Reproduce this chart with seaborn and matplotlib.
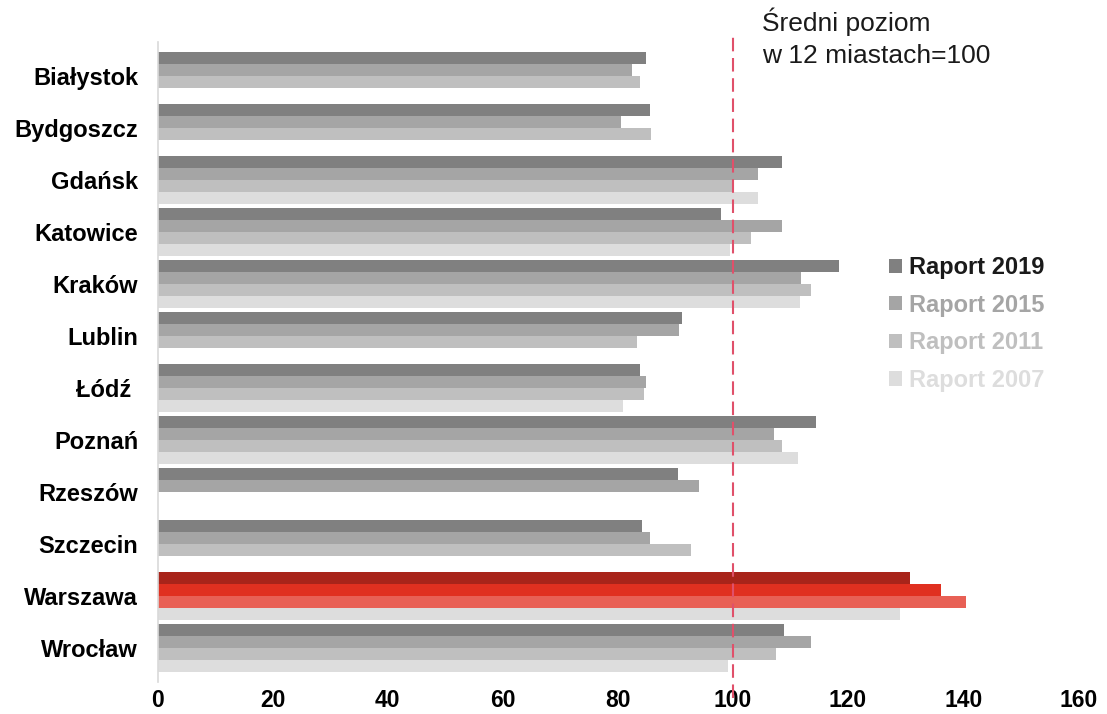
import numpy as np
import pandas as pd
import matplotlib
matplotlib.use("Agg")
import matplotlib.pyplot as plt
import matplotlib.transforms as mtransforms
from matplotlib.patches import Patch
import seaborn as sns

# ---- data ----
cities = ["Białystok", "Bydgoszcz", "Gdańsk", "Katowice", "Kraków", "Lublin",
          "Łódź ", "Poznań", "Rzeszów", "Szczecin", "Warszawa", "Wrocław"]
series = ["Raport 2019", "Raport 2015", "Raport 2011", "Raport 2007"]
nan = np.nan
r2019 = [84.9, 85.6, 108.6, 98.0, 118.4, 91.2, 83.8, 114.4, 90.5, 84.2, 130.8, 108.8]
r2015 = [82.5, 80.5, 104.3, 108.6, 111.9, 90.7, 84.8, 107.1, 94.1, 85.6, 136.2, 113.5]
r2011 = [83.9, 85.8, 99.9, 103.1, 113.5, 83.3, 84.6, 108.5, nan, 92.7, 140.5, 107.4]
r2007 = [nan, nan, 104.3, 99.4, 111.6, nan, 80.9, 111.3, nan, nan, 129.0, 99.2]
reference_level = 100
x_ticks = [0, 20, 40, 60, 80, 100, 120, 140, 160]
highlight_city = "Warszawa"

grey_colors = ["#808080", "#A5A5A5", "#BFBFBF", "#DDDDDD"]
highlight_colors = ["#A8241A", "#E03020", "#E86055", "#DDDDDD"]
legend_text_colors = ["#1A1A1A", "#A5A5A5", "#BFBFBF", "#DDDDDD"]

df = pd.DataFrame({"city": cities, series[0]: r2019, series[1]: r2015,
                   series[2]: r2011, series[3]: r2007})
long = df.melt(id_vars="city", var_name="report", value_name="value")

sns.set_style("white")
plt.rcParams["font.family"] = ["Liberation Sans", "DejaVu Sans"]

fig = plt.figure(figsize=(11.07, 7.14), dpi=100)
ax = fig.add_axes([157.6 / 1107, 1 - 682 / 714, (1078.2 - 157.6) / 1107, 640 / 714])

sns.barplot(data=long, y="city", x="value", hue="report", order=cities,
            hue_order=series, palette=grey_colors, orient="h", width=0.923,
            linewidth=0, saturation=1, errorbar=None, ax=ax, legend=False)

# recolor highlighted city
hi_idx = cities.index(highlight_city)
for i, cont in enumerate(ax.containers):
    for bar in cont:
        yc = bar.get_y() + bar.get_height() / 2
        if int(round(yc)) == hi_idx:
            bar.set_facecolor(highlight_colors[i])

ax.set_xlim(0, 160)
ax.set_ylim(11.65, -0.65)
ax.set_xticks(x_ticks)
ax.set_xlabel("")
ax.set_ylabel("")
for s in ["top", "right", "bottom"]:
    ax.spines[s].set_visible(False)
ax.spines["left"].set_color("#D9D9D9")
ax.spines["left"].set_linewidth(1.2)
ax.tick_params(axis="y", length=0, pad=14, labelsize=17)
ax.tick_params(axis="x", length=0, pad=5, labelsize=16.5)
for lab in ax.get_yticklabels() + ax.get_xticklabels():
    lab.set_fontweight("bold")
    lab.set_color("black")

# reference line
ax.axvline(reference_level, ymin=-0.025, ymax=1.012, clip_on=False,
           color="#E0506A", lw=1.5, linestyle=(0, (6.5, 3.2)), zorder=5)

trans = mtransforms.blended_transform_factory(ax.transData, fig.transFigure)
ax.text(reference_level + 5, 1 - 7 / 714, "Średni poziom\nw 12 miastach=100",
        transform=trans, ha="left", va="top", fontsize=19, color="#1A1A1A",
        linespacing=1.45)

handles = [Patch(facecolor=c, edgecolor="none") for c in grey_colors]
leg = ax.legend(handles, series, loc="upper left",
                bbox_to_anchor=(889 / 1107, 1 - 256 / 714),
                bbox_transform=fig.transFigure, frameon=False,
                borderaxespad=0, borderpad=0, handlelength=0.55,
                handleheight=0.55, handletextpad=0.3, labelspacing=0.62,
                prop={"weight": "bold", "size": 17})
for t, c in zip(leg.get_texts(), legend_text_colors):
    t.set_color(c)

fig.savefig("out.png", dpi=100)
